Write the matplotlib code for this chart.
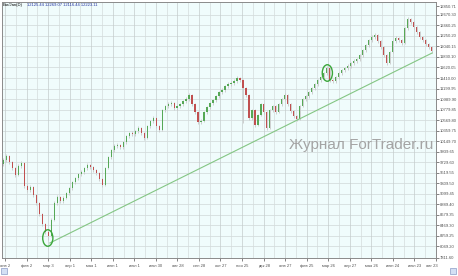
import matplotlib
matplotlib.use("Agg")
import matplotlib.pyplot as plt
from matplotlib.patches import Ellipse, Rectangle
import numpy as np

# --- data ---
first_open = 9700
closes = [9770, 9850, 9730, 9610, 9470, 9650, 9710, 9250, 9170, 9230,
          9070, 8910, 8690, 8490, 8330, 8250, 8570, 8910, 9030, 8950,
          9010, 9110, 9210, 9330, 9410, 9490, 9530, 9610, 9670, 9630,
          9570, 9510, 9390, 9270, 9610, 9830, 9970, 10050, 10070, 10030,
          10130, 10250, 10310, 10290, 10350, 10410, 10310, 10210, 10450, 10550,
          10610, 10450, 10370, 10770, 10850, 10890, 10910, 10810, 10850, 10890,
          10950, 10990, 11070, 10890, 10730, 10530, 10550, 10730, 10830, 10910,
          10970, 11050, 11130, 11170, 11250, 11290, 11310, 11350, 11410, 11370,
          11210, 11070, 10610, 10770, 10470, 10670, 10890, 10730, 10410, 10770,
          10850, 10730, 10890, 10990, 11070, 10890, 10750, 10650, 10590, 10850,
          10990, 11050, 11130, 11210, 11290, 11370, 11430, 11510, 11610, 11370,
          11350, 11430, 11510, 11570, 11610, 11650, 11710, 11750, 11790, 11870,
          11970, 12070, 12170, 12230, 12270, 12150, 12030, 11870, 11710, 11930,
          12150, 12210, 12170, 12110, 12410, 12590, 12530, 12430, 12330, 12230,
          12170, 12090, 12030, 11950]
highs = [9810, 9890, 9880, 9760, 9630, 9690, 9750, 9730, 9290, 9270,
         9250, 9100, 8940, 8720, 8520, 8370, 8610, 8950, 9070, 9060,
         9050, 9140, 9240, 9360, 9440, 9520, 9570, 9640, 9710, 9700,
         9660, 9590, 9530, 9410, 9640, 9860, 10000, 10090, 10110, 10100,
         10160, 10280, 10340, 10350, 10380, 10450, 10430, 10330, 10480, 10580,
         10650, 10630, 10480, 10800, 10880, 10930, 10950, 10940, 10880, 10920,
         10980, 11030, 11110, 11090, 10910, 10750, 10590, 10760, 10860, 10940,
         11000, 11080, 11160, 11210, 11280, 11330, 11350, 11390, 11450, 11440,
         11390, 11240, 11090, 10800, 10790, 10700, 10920, 10910, 10750, 10800,
         10880, 10870, 10920, 11020, 11110, 11090, 10910, 10770, 10670, 10880,
         11020, 11080, 11160, 11240, 11320, 11400, 11460, 11540, 11650, 11630,
         11400, 11460, 11540, 11600, 11640, 11690, 11740, 11790, 11820, 11900,
         12000, 12100, 12200, 12270, 12310, 12300, 12170, 12050, 11890, 11960,
         12180, 12250, 12240, 12190, 12440, 12630, 12620, 12550, 12450, 12350,
         12260, 12190, 12120, 12060]
lows = [9660, 9740, 9700, 9580, 9430, 9450, 9620, 9210, 9130, 9140,
        9030, 8870, 8650, 8450, 8290, 8170, 8230, 8550, 8880, 8910,
        8920, 8990, 9080, 9180, 9300, 9380, 9460, 9500, 9580, 9600,
        9540, 9480, 9350, 9230, 9250, 9590, 9800, 9940, 10020, 9990,
        10000, 10100, 10220, 10260, 10260, 10320, 10280, 10170, 10190, 10420,
        10520, 10420, 10330, 10350, 10740, 10820, 10860, 10780, 10780, 10820,
        10860, 10920, 10960, 10860, 10700, 10490, 10490, 10530, 10700, 10800,
        10880, 10940, 11020, 11100, 11140, 11220, 11260, 11280, 11320, 11340,
        10510, 11030, 10570, 10580, 10430, 10450, 10650, 10700, 10370, 10390,
        10740, 10700, 10710, 10860, 10960, 10860, 10720, 10620, 10550, 10570,
        10830, 10960, 11020, 11100, 11180, 11260, 11340, 11400, 11480, 11330,
        11310, 11320, 11400, 11480, 11540, 11580, 11620, 11680, 11720, 11760,
        11840, 11940, 12040, 12140, 12200, 12110, 11990, 11830, 11670, 11690,
        11910, 12120, 12140, 12070, 12090, 12380, 12500, 12400, 12300, 12190,
        12140, 12050, 11990, 11910]

price_labels = ["12670.30", "12460.25", "12250.20", "12040.15", "11830.10",
                "11620.05", "11410.00", "11199.95", "10989.90", "10779.85",
                "10569.80", "10359.75", "10149.70", "9939.65", "9729.60",
                "9519.55", "9309.50", "9099.45", "8889.40", "8679.35",
                "8469.30", "8259.25", "8049.20"]
price_top = "12850.71"
price_bottom = "7811.60"

date_labels = ["янв 2", "фев 2", "мар 3", "апр 1", "мая 1", "июн 1", "июл 1",
               "июл 30", "авг 28", "сен 28", "окт 27", "ноя 25", "дек 28",
               "янв 27", "фев 25", "мар 26", "апр 27", "мая 26", "июн 24",
               "июл 23", "авг 23"]

header_name = "Eur/Jan(D)"
header_values = "12125.44 12269.07 12116.44 12223.11"

trend_bars = [15.5, 143.2]
trend_prices = [8110, 11910]

circle_bars = [14.8, 108.2]
circle_prices = [8210, 11510]

# --- figure ---
W, H = 458, 276
fig = plt.figure(figsize=(W / 100, H / 100), dpi=100)
fig.patch.set_facecolor("white")
ax = fig.add_axes([2 / W, 18 / H, 434 / W, 256 / H])
ax.set_facecolor("#f0fcfc")

small = dict(fontsize=3.0, family="Liberation Sans", color="#505050")

n = len(closes)
x = np.arange(n)
opens = [first_open] + closes[:-1]
ymin, ymax = 7810, 12930
ax.set_xlim(-0.5, 144.17)
ax.set_ylim(ymin, ymax)

# grid
tick_vals = [float(s) for s in price_labels]
for v in tick_vals:
    ax.axhline(v, color="#d0d8d8", lw=0.5, zorder=1)
grid_bars = 0.5 + 3.6 * np.arange(41)
for i, g in enumerate(grid_bars):
    ax.axvline(g, color="#c4cccc" if i % 2 == 0 else "#d4dcdc", lw=0.5, zorder=1)

# candles
ax.vlines(x, lows, highs, color="#c8c8c8", lw=0.6, zorder=2)
bottoms = [min(o, c) for o, c in zip(opens, closes)]
heights = [abs(c - o) for o, c in zip(opens, closes)]
colors = ["#56a856" if c >= o else "#c05050" for o, c in zip(opens, closes)]
ax.bar(x, heights, bottom=bottoms, width=0.4, color=colors, lw=0, zorder=3)

# trend line and circles
ax.plot(trend_bars, trend_prices, color="#84c684", lw=0.8, zorder=4)
for cb, cp in zip(circle_bars, circle_prices):
    ax.add_patch(Ellipse((cb, cp), 3.4, 330, fill=False, ec="#3aa63a", lw=1.0, zorder=5))

# axes styling
for s in ax.spines.values():
    s.set_color("#8a8a8a")
    s.set_linewidth(0.7)
ax.yaxis.tick_right()
ax.set_yticks(tick_vals + [12850.0, ymin + 5])
ax.set_yticklabels(price_labels + [price_top, price_bottom], family="Liberation Sans")
ax.tick_params(axis="y", length=2, width=0.5, pad=1, labelsize=3.0,
               colors="#505050")

label_bars = grid_bars[::2]
ax.set_xticks(label_bars)
ax.set_xticklabels([])
ax.tick_params(axis="x", length=2, width=0.5, colors="#505050")
for b, lab in zip(label_bars, date_labels):
    ax.text(min(b, 143.0), -0.035, lab, transform=ax.get_xaxis_transform(),
            ha="center", va="baseline", clip_on=False, **small)

# header and watermark
fig.text(3 / W, 1 - 6 / H, header_name, va="baseline", **dict(small, color="black"))
fig.text(27 / W, 1 - 6 / H, header_values, va="baseline", **dict(small, color="#2030a0"))
fig.text(289 / W, 1 - 145 / H, "Журнал ForTrader.ru", fontsize=11,
         color="#a4a4a4", va="center", ha="left", family="Liberation Sans")

# scroll bar buttons at the bottom
fig.patches.append(Rectangle((1 / W, 2 / H), 6 / W, 6 / H, transform=fig.transFigure,
                             fc="#d4e0f4", ec="#8c9cc8", lw=0.5))
fig.patches.append(Rectangle((450 / W, 2 / H), 6 / W, 6 / H, transform=fig.transFigure,
                             fc="#d4e0f4", ec="#8c9cc8", lw=0.5))

fig.savefig("out.png", dpi=100, facecolor="white")
